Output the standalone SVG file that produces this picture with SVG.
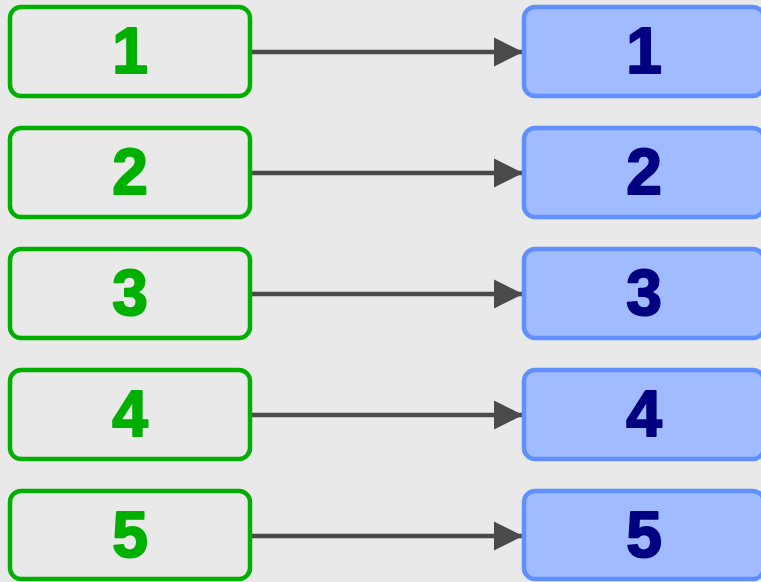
<svg xmlns="http://www.w3.org/2000/svg" width="761" height="582" viewBox="0 0 761 582">
<style>
.l rect{fill:none;stroke:#00b000;stroke-width:4.5}
.r rect{fill:#a0bbff;stroke:#6090ff;stroke-width:4.5}
text{font-family:"Liberation Sans",Arial,sans-serif;font-weight:bold;font-size:64px;text-anchor:middle;stroke-width:2;stroke-linejoin:round}
.l text{fill:#00b000;stroke:#00b000}
.r text{fill:#000080;stroke:#000080}
.c line{stroke:#4a4a4a;stroke-width:4.5}
</style>
<defs>
<marker id="ah" markerUnits="userSpaceOnUse" markerWidth="30" markerHeight="30" refX="29" refY="15" orient="auto" viewBox="0 0 30 30">
<path d="M0,0.5 L29,15 L0,29.5 Z" fill="#4a4a4a"/>
</marker>
</defs>
<rect width="761" height="582" fill="#e9e9e9"/>
<g class="c">
<line x1="252" y1="52" x2="523" y2="52" marker-end="url(#ah)"/>
<line x1="252" y1="173" x2="523" y2="173" marker-end="url(#ah)"/>
<line x1="252" y1="294" x2="523" y2="294" marker-end="url(#ah)"/>
<line x1="252" y1="415" x2="523" y2="415" marker-end="url(#ah)"/>
<line x1="252" y1="536" x2="523" y2="536" marker-end="url(#ah)"/>
</g>
<g id="l1" class="l"><rect x="10" y="7" width="240" height="89" rx="11"/><text x="130" y="73">1</text></g>
<g id="l2" class="l"><rect x="10" y="128" width="240" height="89" rx="11"/><text x="130" y="194">2</text></g>
<g id="l3" class="l"><rect x="10" y="249" width="240" height="89" rx="11"/><text x="130" y="315">3</text></g>
<g id="l4" class="l"><rect x="10" y="370" width="240" height="89" rx="11"/><text x="130" y="436">4</text></g>
<g id="l5" class="l"><rect x="10" y="491" width="240" height="88" rx="11"/><text x="130" y="557">5</text></g>
<g id="r1" class="r"><rect x="524" y="7" width="240" height="89" rx="11"/><text x="644" y="73">1</text></g>
<g id="r2" class="r"><rect x="524" y="128" width="240" height="89" rx="11"/><text x="644" y="194">2</text></g>
<g id="r3" class="r"><rect x="524" y="249" width="240" height="89" rx="11"/><text x="644" y="315">3</text></g>
<g id="r4" class="r"><rect x="524" y="370" width="240" height="89" rx="11"/><text x="644" y="436">4</text></g>
<g id="r5" class="r"><rect x="524" y="491" width="240" height="88" rx="11"/><text x="644" y="557">5</text></g>
</svg>
